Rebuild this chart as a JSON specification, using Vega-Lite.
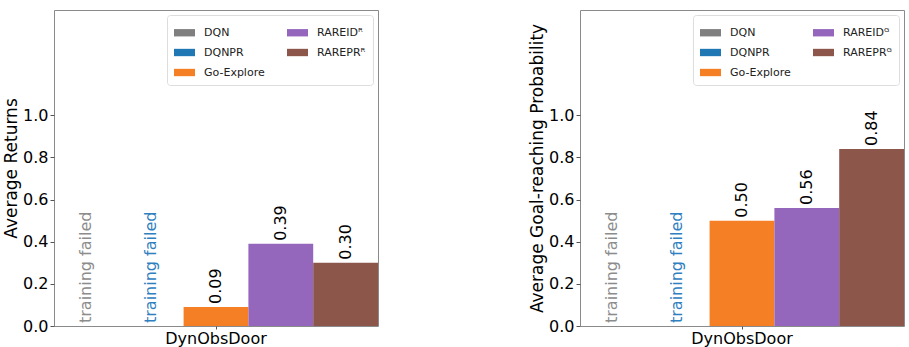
{
  "$schema": "https://vega.github.io/schema/vega-lite/v6.json",
  "background": "white",
  "padding": {"left": 2, "top": 9, "right": 0, "bottom": 0},
  "config": {
    "font": "DejaVu Sans",
    "view": {"stroke": "#8a8a8a", "strokeWidth": 1},
    "axis": {
      "grid": false,
      "domain": false,
      "labelFontSize": 16,
      "labelColor": "#000",
      "titleFontSize": 17,
      "titleFontWeight": "normal",
      "titleColor": "#000",
      "tickColor": "#555",
      "tickSize": 4
    },
    "legend": {
      "orient": "top-right",
      "offset": 5,
      "columns": 2,
      "columnPadding": 22,
      "rowPadding": 4,
      "padding": 7,
      "labelFontSize": 11,
      "labelColor": "#222",
      "strokeColor": "#ddd",
      "cornerRadius": 3,
      "fillColor": "white",
      "symbolType": "M-1,-0.35L1,-0.35L1,0.35L-1,0.35Z",
      "symbolSize": 441,
      "symbolStrokeWidth": 0,
      "labelOffset": 9
    }
  },
  "datasets": {
    "returns": [
      {"env": "DynObsDoor", "method": "DQN", "legend": "DQN", "value": 0, "failed": true},
      {"env": "DynObsDoor", "method": "DQNPR", "legend": "DQNPR", "value": 0, "failed": true},
      {"env": "DynObsDoor", "method": "Go-Explore", "legend": "Go-Explore", "value": 0.09, "failed": false},
      {"env": "DynObsDoor", "method": "RAREID", "legend": "RAREIDᴿ", "value": 0.39, "failed": false},
      {"env": "DynObsDoor", "method": "RAREPR", "legend": "RAREPRᴿ", "value": 0.30, "failed": false}
    ],
    "goal": [
      {"env": "DynObsDoor", "method": "DQN", "legend": "DQN", "value": 0, "failed": true},
      {"env": "DynObsDoor", "method": "DQNPR", "legend": "DQNPR", "value": 0, "failed": true},
      {"env": "DynObsDoor", "method": "Go-Explore", "legend": "Go-Explore", "value": 0.50, "failed": false},
      {"env": "DynObsDoor", "method": "RAREID", "legend": "RAREIDᴳ", "value": 0.56, "failed": false},
      {"env": "DynObsDoor", "method": "RAREPR", "legend": "RAREPRᴳ", "value": 0.84, "failed": false}
    ]
  },
  "hconcat": [
    {
      "width": 324,
      "height": 316,
      "data": {"name": "returns"},
      "encoding": {
        "x": {"field": "env", "type": "nominal", "title": null,
              "scale": {"paddingInner": 0, "paddingOuter": 0},
              "axis": {"labelAngle": 0, "labelPadding": 1, "tickSize": 3}},
        "xOffset": {"field": "method", "type": "nominal",
                    "scale": {"domain": ["DQN", "DQNPR", "Go-Explore", "RAREID", "RAREPR"], "paddingInner": 0, "paddingOuter": 0}},
        "y": {"field": "value", "type": "quantitative", "title": "Average Returns",
              "scale": {"domain": [0, 1.5], "nice": false},
              "axis": {"values": [0, 0.2, 0.4, 0.6, 0.8, 1.0], "format": ".1f", "labelPadding": 2, "titlePadding": 2}}
      },
      "layer": [
        {
          "mark": {"type": "bar"},
          "encoding": {
            "color": {"field": "legend", "type": "nominal", "title": null,
                      "scale": {"domain": ["DQN", "DQNPR", "Go-Explore", "RAREIDᴿ", "RAREPRᴿ"],
                                "range": ["#7f7f7f", "#1f77b4", "#f57f24", "#9467bd", "#8c564b"]}}
          }
        },
        {
          "transform": [{"filter": "!datum.failed"}],
          "mark": {"type": "text", "angle": 270, "align": "left", "baseline": "middle", "dx": 3, "fontSize": 16, "color": "#000"},
          "encoding": {"text": {"field": "value", "type": "quantitative", "format": ".2f"}}
        },
        {
          "transform": [{"filter": "datum.method === 'DQN'"}],
          "mark": {"type": "text", "angle": 270, "align": "left", "baseline": "middle", "dx": 3, "fontSize": 16, "color": "#8c8c8c"},
          "encoding": {"text": {"value": "training failed"}}
        },
        {
          "transform": [{"filter": "datum.method === 'DQNPR'"}],
          "mark": {"type": "text", "angle": 270, "align": "left", "baseline": "middle", "dx": 3, "fontSize": 16, "color": "#2f80c0"},
          "encoding": {"text": {"value": "training failed"}}
        }
      ]
    },
    {
      "width": 324,
      "height": 316,
      "data": {"name": "goal"},
      "encoding": {
        "x": {"field": "env", "type": "nominal", "title": null,
              "scale": {"paddingInner": 0, "paddingOuter": 0},
              "axis": {"labelAngle": 0, "labelPadding": 1, "tickSize": 3}},
        "xOffset": {"field": "method", "type": "nominal",
                    "scale": {"domain": ["DQN", "DQNPR", "Go-Explore", "RAREID", "RAREPR"], "paddingInner": 0, "paddingOuter": 0}},
        "y": {"field": "value", "type": "quantitative", "title": "Average Goal-reaching Probability",
              "scale": {"domain": [0, 1.5], "nice": false},
              "axis": {"values": [0, 0.2, 0.4, 0.6, 0.8, 1.0], "format": ".1f", "labelPadding": 2, "titlePadding": 2}}
      },
      "layer": [
        {
          "mark": {"type": "bar"},
          "encoding": {
            "color": {"field": "legend", "type": "nominal", "title": null,
                      "scale": {"domain": ["DQN", "DQNPR", "Go-Explore", "RAREIDᴳ", "RAREPRᴳ"],
                                "range": ["#7f7f7f", "#1f77b4", "#f57f24", "#9467bd", "#8c564b"]}}
          }
        },
        {
          "transform": [{"filter": "!datum.failed"}],
          "mark": {"type": "text", "angle": 270, "align": "left", "baseline": "middle", "dx": 3, "fontSize": 16, "color": "#000"},
          "encoding": {"text": {"field": "value", "type": "quantitative", "format": ".2f"}}
        },
        {
          "transform": [{"filter": "datum.method === 'DQN'"}],
          "mark": {"type": "text", "angle": 270, "align": "left", "baseline": "middle", "dx": 3, "fontSize": 16, "color": "#8c8c8c"},
          "encoding": {"text": {"value": "training failed"}}
        },
        {
          "transform": [{"filter": "datum.method === 'DQNPR'"}],
          "mark": {"type": "text", "angle": 270, "align": "left", "baseline": "middle", "dx": 3, "fontSize": 16, "color": "#2f80c0"},
          "encoding": {"text": {"value": "training failed"}}
        }
      ]
    }
  ],
  "resolve": {"scale": {"color": "independent"}, "legend": {"color": "independent"}},
  "spacing": 149
}
